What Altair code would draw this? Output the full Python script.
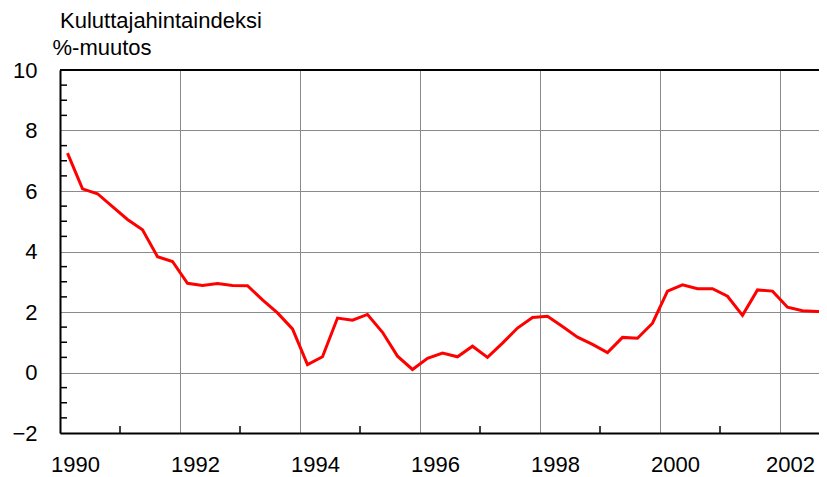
import altair as alt
import pandas as pd

# Quarterly consumer price index, % change (Finland), 1990 Q1 ... 2002 Q4
start_year = 1990
cpi_change = [
    7.25, 6.07, 5.91, 5.48, 5.06, 4.72, 3.83, 3.67,
    2.95, 2.88, 2.94, 2.88, 2.87, 2.40, 1.97, 1.44,
    0.26, 0.52, 1.80, 1.73, 1.92, 1.33, 0.54, 0.10,
    0.47, 0.64, 0.52, 0.87, 0.50, 0.97, 1.47, 1.82,
    1.86, 1.52, 1.17, 0.93, 0.66, 1.16, 1.13, 1.63,
    2.69, 2.90, 2.77, 2.77, 2.52, 1.89, 2.73, 2.69,
    2.16, 2.04, 2.02, 2.01,
]
x_tick_years = [1990, 1992, 1994, 1996, 1998, 2000, 2002]
x_minor_years = [1991, 1993, 1995, 1997, 1999, 2001]
y_tick_values = [-2, 0, 2, 4, 6, 8, 10]
y_minor_values = [-1.5, -1, -0.5, 0.5, 1, 1.5, 2.5, 3, 3.5, 4.5, 5, 5.5,
                  6.5, 7, 7.5, 8.5, 9, 9.5]

title_text = "Kuluttajahintaindeksi"
y_title = "%-muutos"

FONT = "Liberation Sans, Arial, sans-serif"
W, H = 759, 363
X_DOMAIN = [1990, 1990 + W / 60.0]
Y_DOMAIN = [-2, 10]

df = pd.DataFrame({
    "t": [start_year + (i + 0.5) / 4 for i in range(len(cpi_change))],
    "v": cpi_change,
})

xscale = alt.Scale(domain=X_DOMAIN, nice=False, zero=False)
yscale = alt.Scale(domain=Y_DOMAIN, nice=False, zero=False)

xaxis = alt.Axis(
    values=x_tick_years, format="d", grid=True, gridColor="#8a8a8a", gridWidth=1,
    ticks=False, tickSize=0, domain=True, domainColor="black", domainWidth=2,
    labelFont=FONT, labelFontSize=22, labelColor="black", labelPadding=21,
    labelOffset=alt.ExprRef("datum.value == 2002 ? 10 : 15"),
    labelFlush=False, title=None,
)
yaxis = alt.Axis(
    values=y_tick_values, grid=True, gridColor="#8a8a8a", gridWidth=1,
    ticks=False, tickSize=0, domain=True, domainColor="black", domainWidth=2,
    labelFont=FONT, labelFontSize=22, labelColor="black", labelPadding=23,
    labelFlush=False, title=y_title, titleAngle=0, titleAlign="left",
    titleBaseline="alphabetic", titleX=-8, titleY=-16, titleFont=FONT,
    titleFontSize=22, titleFontWeight="normal", titleColor="black",
)

line = alt.Chart(df).mark_line(color="#ff0000", strokeWidth=3, clip=True).encode(
    x=alt.X("t:Q", scale=xscale, axis=xaxis),
    y=alt.Y("v:Q", scale=yscale, axis=yaxis),
)

yminor = alt.Chart(pd.DataFrame({"y": y_minor_values})).mark_rule(
    color="black", strokeWidth=1.5
).encode(
    y=alt.Y("y:Q", scale=yscale),
    x=alt.value(0),
    x2=alt.value(7),
)

xminor = alt.Chart(pd.DataFrame({"x": x_minor_years})).mark_rule(
    color="black", strokeWidth=1.5
).encode(
    x=alt.X("x:Q", scale=xscale),
    y=alt.value(H),
    y2=alt.value(H - 7),
)

topline = alt.Chart(pd.DataFrame({"a": [0]})).mark_rule(
    color="black", strokeWidth=2
).encode(
    x=alt.value(0), x2=alt.value(W), y=alt.value(0),
)

chart = alt.layer(yminor, xminor, topline, line).properties(
    width=W,
    height=H,
    padding={"left": 52, "top": 62, "right": 0, "bottom": 44},
    autosize=alt.AutoSizeParams(type="none"),
    title=alt.Title(
        title_text, anchor="start", frame="group", font=FONT, fontSize=22,
        fontWeight="normal", color="black", offset=3,
    ),
).configure_view(stroke=None).configure(background="white")

chart.save("out.html", embed_options={"renderer": "svg", "actions": False})
